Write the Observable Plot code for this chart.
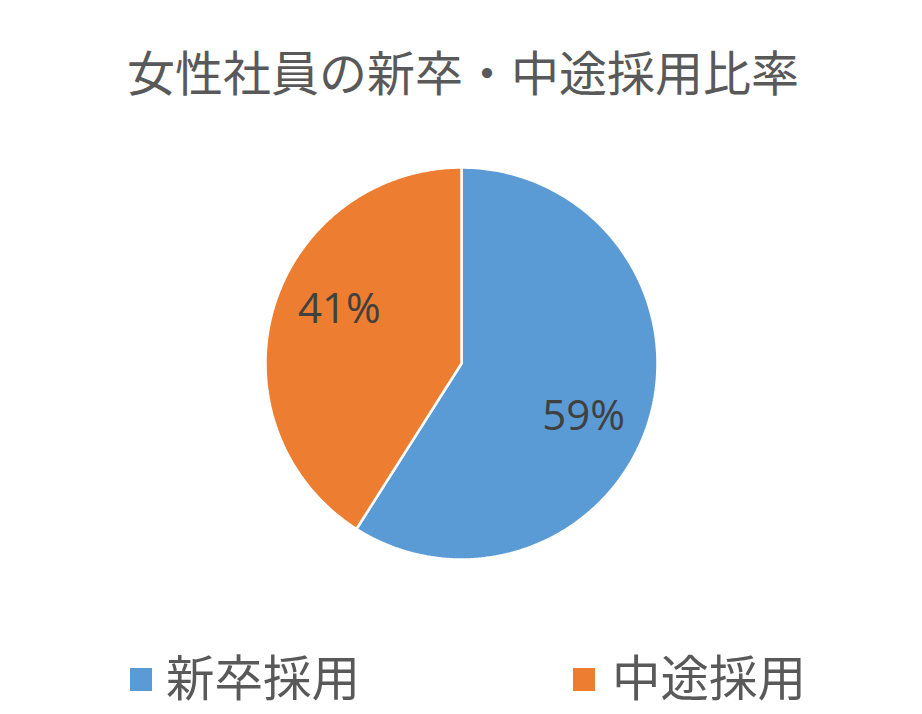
<!DOCTYPE html>
<html><head><meta charset="utf-8">
<script src="https://cdn.jsdelivr.net/npm/d3@7"></script>
<script src="https://cdn.jsdelivr.net/npm/@observablehq/plot@0.6"></script>
<style>
body{margin:0;background:#fff;}
#wrap{position:relative;width:922px;height:714px;font-family:"Noto Sans CJK JP","Noto Sans",sans-serif;overflow:hidden;}
#title{position:absolute;left:0;width:926px;top:46px;text-align:center;font-size:48px;line-height:48px;color:#595959;}
#chart{position:absolute;left:0;top:120px;}
.sw{position:absolute;width:22px;height:23px;}
.lt{position:absolute;font-size:48.5px;line-height:48px;color:#595959;top:651px;}
</style></head>
<body><div id="wrap">
<div id="title"></div>
<div id="chart"></div>
<div id="legend"></div>
</div>
<script>
const titleText = "女性社員の新卒・中途採用比率";
const categories = ["新卒採用", "中途採用"];
const values = [59, 41];
const labels = ["59%", "41%"];
const colors = ["#5B9BD5", "#ED7D31"];

document.getElementById("title").textContent = titleText;

const total = d3.sum(values);
// build slices (clockwise from 12 o'clock)
const pts = [];
const labelRows = [];
let acc = 0;
categories.forEach((c, i) => {
  const a0 = acc / total * 2 * Math.PI;
  acc += values[i];
  const a1 = acc / total * 2 * Math.PI;
  pts.push({cat: c, x: 0, y: 0});
  const n = 200;
  for (let k = 0; k <= n; k++) {
    const a = a0 + (a1 - a0) * k / n;
    pts.push({cat: c, x: Math.sin(a), y: Math.cos(a)});
  }
  pts.push({cat: c, x: 0, y: 0});
  const am = (a0 + a1) / 2 + 0.13;
  labelRows.push({cat: c, label: labels[i], x: 0.68 * Math.sin(am), y: 0.68 * Math.cos(am)});
});

const cx = 461, cy = 363 - 120, r = 196;
const plot = Plot.plot({
  width: 922, height: 500,
  margin: 0,
  x: {domain: [-1, 1], range: [cx - r, cx + r], axis: null},
  y: {domain: [-1, 1], range: [cy + r, cy - r], axis: null},
  color: {domain: categories, range: colors},
  style: {background: "transparent"},
  marks: [
    Plot.line(pts, {x: "x", y: "y", z: "cat", fill: "cat", stroke: "white", strokeWidth: 2.5, curve: "linear", strokeLinejoin: "miter"}),
    Plot.text(labelRows, {x: "x", y: "y", text: "label", fill: "#404040", fontSize: 42, fontFamily: "'Open Sans', 'Noto Sans', sans-serif"})
  ]
});
document.getElementById("chart").appendChild(plot);

const leg = document.getElementById("legend");
const legPos = [[130, 166], [573, 612]];
categories.forEach((c, i) => {
  const s = document.createElement("div");
  s.className = "sw";
  s.style.left = legPos[i][0] + "px";
  s.style.top = "668px";
  s.style.background = colors[i];
  leg.appendChild(s);
  const t = document.createElement("div");
  t.className = "lt";
  t.style.left = legPos[i][1] + "px";
  t.textContent = c;
  leg.appendChild(t);
});
</script>
</body></html>
